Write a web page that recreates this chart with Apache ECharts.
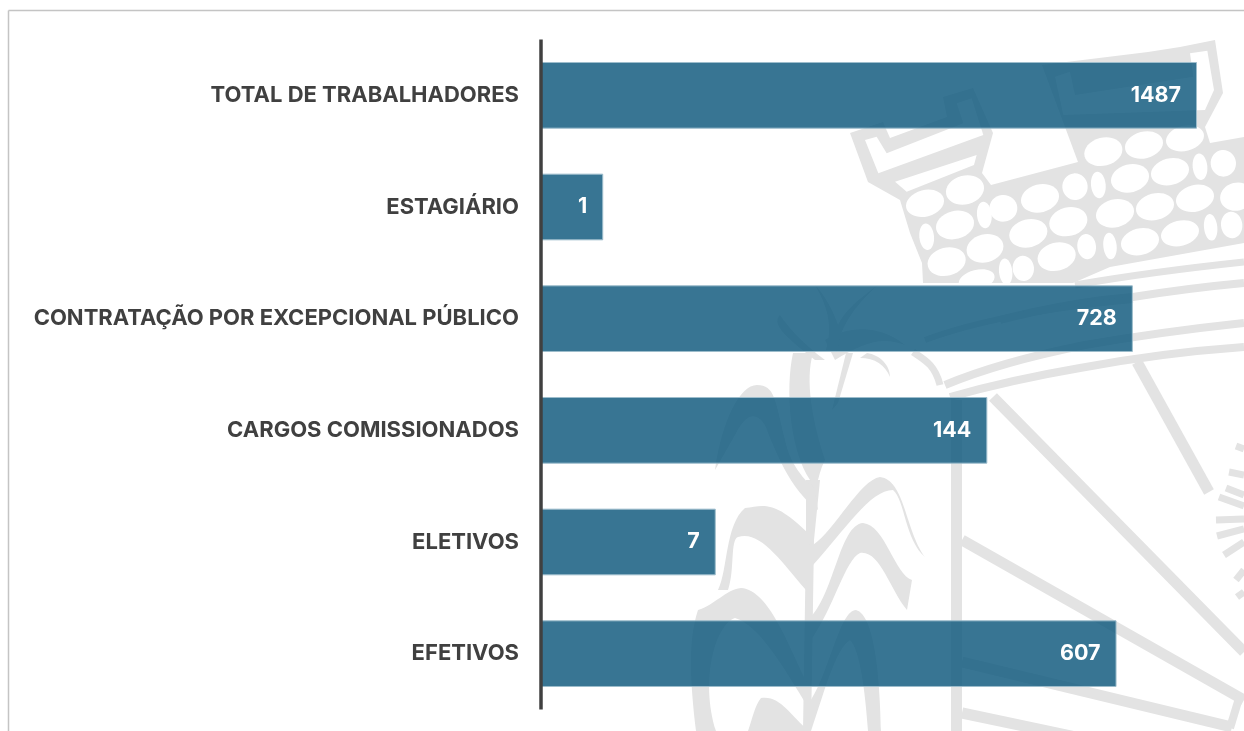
<!DOCTYPE html>
<html>
<head>
<meta charset="utf-8">
<style>
  html, body { margin: 0; padding: 0; background: #fff; }
  #chart { width: 1244px; height: 731px; }
</style>
<script src="https://cdn.jsdelivr.net/npm/echarts@6/dist/echarts.min.js"></script>
</head>
<body>
<div id="chart"></div>
<script>
var categories = ['TOTAL DE TRABALHADORES', 'ESTAGIÁRIO', 'CONTRATAÇÃO POR EXCEPCIONAL PÚBLICO', 'CARGOS COMISSIONADOS', 'ELETIVOS', 'EFETIVOS'];
// printed numbers
var shownValues = [1487, 1, 728, 144, 7, 607];
// bar lengths as read on the picture's log scale, the "1" bar is drawn about where 2 would fall
var barValues = [1487, 2, 728, 144, 7, 607];

var GRAY = '#e3e3e3';

// background crest
var shapeCount = 0;
function pathType(d) {
    var name = 'crestPath' + (shapeCount++);
    echarts.graphic.registerShape(name, echarts.graphic.extendPath(d));
    return name;
}
function poly(points, fill) {
    return { type: 'polygon', silent: true, shape: { points: points }, style: { fill: fill } };
}
function stroke(d, width) {
    return { type: pathType(d), silent: true, style: { fill: 'none', stroke: GRAY, lineWidth: width } };
}
function fillPath(d) {
    return { type: pathType(d), silent: true, style: { fill: GRAY } };
}
function stone(zx, zy, rx, ry, rot) {
    return {
        type: 'ellipse', silent: true, x: 800 + zx / 3, y: zy / 3, rotation: rot,
        shape: { cx: 0, cy: 0, rx: rx / 3, ry: ry / 3 }, style: { fill: '#fff' }
    };
}
function z1(list) {
    return list.map(function (p) { return [800 + p[0] / 3, p[1] / 3]; });
}

var crest = [];
crest.push(poly([[850,133],[883,122],[890,138],[947,117],[943,97],[973,88],[993,133],[982,173],[991,185],[1078,162],[1042,65],[1148,52],[1180,47],[1215,40],[1223,93],[1205,127],[1210,143],[1244,137],[1244,243],[1110,267],[1073,283],[923,283],[922,263],[910,233],[900,200],[868,182]], GRAY));
crest.push(poly(z1([[195,420],[230,410],[260,460],[490,370],[470,310],[515,295],[550,405],[235,520]]), '#fff'));
crest.push(poly(z1([[285,545],[530,465],[522,495],[320,575]]), '#fff'));
crest.push(poly(z1([[1170,160],[1222,152],[1242,270],[1215,330],[790,345],[765,230],[810,215],[825,285],[1180,230]]), '#fff'));
[
    [375,610,58,40],[495,570,58,43],[465,675,58,42],[555,745,56,42],[440,785,58,42],
    [720,595,58,42],[805,665,58,43],[685,700,58,42],[770,770,58,42],[910,455,58,42],
    [1032,435,58,40],[1155,415,58,38],[990,535,58,42],[1110,515,58,40],[945,640,58,42],
    [1065,620,58,40],[1185,595,58,40],[1020,725,58,40],[1140,700,58,38],[530,840,55,30],[1310,590,50,42]
].forEach(function (s) { crest.push(stone(s[0], s[1], s[2], s[3], 0.25)); });
[
    [380,710,22,40],[553,645,22,40],[895,555,22,40],[930,738,20,40],[1200,500,22,40],
    [1232,682,20,40],[617,815,20,40],[610,625,42,40],[825,560,38,40],[1270,490,38,40],
    [1295,675,32,40],[670,805,32,38],[860,740,28,38]
].forEach(function (s) { crest.push(stone(s[0], s[1], s[2], s[3], 0.1)); });

// bands under the crown
crest.push(stroke('M 1075 285 Q 1150 272 1244 262', 7));
crest.push(stroke('M 1000 320 Q 1070 302 1133 297 Q 1190 288 1244 283', 8));
crest.push(stroke('M 925 340 Q 1000 312 1133 300', 6));
crest.push(stroke('M 945 385 Q 1000 362 1085 345 Q 1160 332 1244 323', 8));
crest.push(stroke('M 950 397 Q 1010 380 1080 368 Q 1160 353 1244 347', 8));
crest.push(stroke('M 913 352 C 925 360 935 365 940 385', 7));

// shield lines
crest.push(poly([[951,400],[962,400],[962,731],[951,731]], GRAY));
crest.push(stroke('M 993 397 L 1244 652', 11));
crest.push(stroke('M 1137 362 L 1209 492', 11));
crest.push(stroke('M 962 540 L 1244 700', 11));
crest.push(stroke('M 962 662 L 1232 727', 11));
crest.push(stroke('M 962 713 L 1090 740', 11));
crest.push(stroke('M 1240 695 L 1230 728', 8));

// radial ticks on the right edge
[
    'M 1236 446 L 1244 449', 'M 1229 472 L 1244 475', 'M 1226 488 L 1244 495',
    'M 1219 497 L 1244 506', 'M 1216 520 L 1244 519', 'M 1217 536 L 1244 529',
    'M 1224 555 L 1244 542', 'M 1236 580 L 1244 570', 'M 1237 597 L 1244 592'
].forEach(function (d) { crest.push(stroke(d, 7)); });

// cane stalk and leaves
crest.push(poly([[806,480],[820,480],[814,540],[811,731],[803,731],[806,540]], GRAY));
crest.push(fillPath('M 715 470 C 722 420 740 385 757 385 C 775 385 775 400 785 440 C 790 465 805 480 815 490 L 818 510 C 790 490 775 450 765 425 C 755 410 745 415 735 435 Z'));
crest.push(fillPath('M 810 535 C 775 500 765 505 745 508 C 725 525 728 570 718 590 L 728 590 C 735 570 730 540 738 537 C 760 530 780 560 806 590 Z'));
crest.push(fillPath('M 813 545 C 835 530 860 480 880 477 C 905 480 905 530 925 557 C 905 540 905 500 893 490 C 870 490 845 530 813 565 Z'));
crest.push(fillPath('M 811 617 C 835 590 840 525 863 523 C 885 525 895 575 912 580 L 907 610 C 890 590 880 550 860 553 C 845 560 835 605 811 640 Z'));
crest.push(fillPath('M 698 610 C 715 605 725 590 741 588 C 770 590 790 650 808 685 L 808 707 C 785 670 760 625 735 618 C 715 625 700 680 716 731 L 696 731 C 690 680 688 640 698 610 Z'));
crest.push(fillPath('M 811 700 C 830 670 840 610 856 610 C 875 615 880 680 881 731 L 868 731 C 865 690 860 650 850 640 C 835 650 825 690 811 731 Z'));
crest.push(fillPath('M 809 731 C 790 715 780 695 761 698 C 755 705 752 720 748 731 Z'));
crest.push(fillPath('M 793 353 L 813 353 C 805 380 812 420 825 460 C 815 480 818 500 810 480 C 790 450 785 390 793 353 Z'));
crest.push(poly([[853,353],[846,353],[832,410],[838,403]], GRAY));
crest.push(fillPath('M 867 353 C 880 355 890 365 890 377 C 885 365 875 358 860 358 Z'));
crest.push(fillPath('M 815 360 C 790 340 770 325 780 315 C 790 330 805 345 825 360 Z'));
crest.push(fillPath('M 825 340 C 850 325 880 325 905 345 C 880 335 860 345 835 360 Z'));
crest.push(fillPath('M 815 285 C 830 310 832 330 826 350 L 838 350 C 838 330 855 305 878 285 C 860 298 845 310 838 325 C 835 315 825 295 815 285 Z'));

// grey page frame, only top and left sides are visible
var frame = [
    { type: 'line', silent: true, shape: { x1: 8.5, y1: 10.5, x2: 1244, y2: 10.5 }, style: { stroke: '#c4c4c4', lineWidth: 1.5 } },
    { type: 'line', silent: true, shape: { x1: 8.5, y1: 10.5, x2: 8.5, y2: 731 }, style: { stroke: '#c4c4c4', lineWidth: 1.5 } }
];

var chart = echarts.init(document.getElementById('chart'), null, { renderer: 'canvas' });
chart.setOption({
    animation: false,
    backgroundColor: '#fff',
    graphic: { elements: crest.concat(frame).map(function (e) { e.z = -1; return e; }) },
    grid: { left: 541, top: 39.5, width: 656, height: 670, containLabel: false },
    xAxis: {
        type: 'log',
        logBase: 10,
        min: 1,
        max: 1487,
        show: false
    },
    yAxis: {
        type: 'category',
        inverse: true,
        z: 3,
        data: categories,
        axisLine: { show: true, lineStyle: { color: '#404040', width: 3.5, cap: 'butt' } },
        axisTick: { show: false },
        axisLabel: {
            margin: 22,
            color: '#404040',
            fontFamily: 'Inter',
            fontWeight: 700,
            fontSize: 22,
            padding: [2, 0, 0, 0]
        }
    },
    series: [{
        type: 'bar',
        data: barValues,
        barCategoryGap: '40.3%',
        clip: false,
        itemStyle: {
            color: 'rgba(16,89,125,0.83)',
            borderColor: '#9dbdcc',
            borderWidth: 1
        },
        label: {
            show: true,
            position: 'insideRight',
            distance: 16,
            color: '#fff',
            fontFamily: 'Inter',
            fontWeight: 700,
            fontSize: 21.5,
            padding: [2, 0, 0, 0],
            formatter: function (p) { return String(shownValues[p.dataIndex]); }
        }
    }]
});
</script>
</body>
</html>
